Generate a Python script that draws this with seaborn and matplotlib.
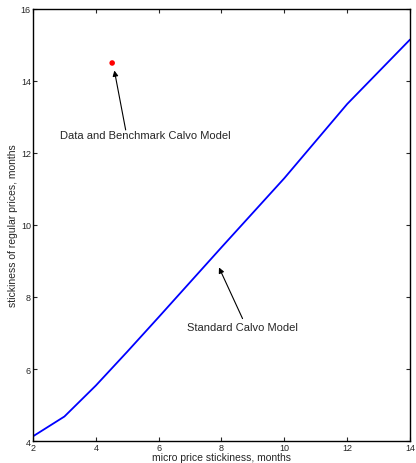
import matplotlib
matplotlib.use('Agg')
import matplotlib.pyplot as plt
import seaborn as sb
import pandas as pd

# values
micro_months = [2, 3, 4, 5, 6, 8, 10, 12, 14]
regular_months = [4.13, 4.68, 5.54, 6.48, 7.44, 9.38, 11.30, 13.36, 15.15]
data_x = [4.52]
data_y = [14.5]
x_ticks = [2, 4, 6, 8, 10, 12, 14]
y_ticks = [4, 6, 8, 10, 12, 14, 16]

calvo = pd.DataFrame({'micro': micro_months, 'regular': regular_months})
point = pd.DataFrame({'micro': data_x, 'regular': data_y})

sb.set_style('ticks')
plt.rcParams['font.family'] = ['Liberation Sans', 'DejaVu Sans']
plt.rcParams['xtick.direction'] = 'in'
plt.rcParams['ytick.direction'] = 'in'

fig = plt.figure(figsize=(4.16, 4.64), dpi=100)
ax = fig.add_axes([0.0793, 0.0474, 0.9063, 0.9311])

sb.lineplot(data=calvo, x='micro', y='regular', color='#0000ff', linewidth=1.3, ax=ax)
sb.scatterplot(data=point, x='micro', y='regular', color='#ff0000', s=16, edgecolor='none', ax=ax, zorder=3)

# arrows drawn separately from the labels
arrow = dict(arrowstyle='-|>', color='black', lw=0.8, mutation_scale=8, shrinkA=0, shrinkB=0)
ax.annotate('', xy=(4.59, 14.29), xytext=(4.95, 12.64), arrowprops=arrow)
ax.annotate('', xy=(7.92, 8.82), xytext=(8.67, 7.40), arrowprops=arrow)
ax.text(5.58, 12.5, 'Data and Benchmark Calvo Model', ha='center', va='center', fontsize=8)
ax.text(8.67, 7.17, 'Standard Calvo Model', ha='center', va='center', fontsize=8)

ax.set_xlim(2, 14)
ax.set_ylim(4, 16)
ax.set_xticks(x_ticks)
ax.set_yticks(y_ticks)
ax.tick_params(labelsize=6.5, length=3, width=0.8, top=True, right=True, pad=1.5)
for s in ax.spines.values():
    s.set_visible(True)
    s.set_linewidth(1.0)
    s.set_color('black')
ax.set_xlabel('micro price stickiness, months', fontsize=7.5, labelpad=0)
ax.set_ylabel('stickiness of regular prices, months', fontsize=7.5, labelpad=2)

plt.savefig('out.png', dpi=100)
